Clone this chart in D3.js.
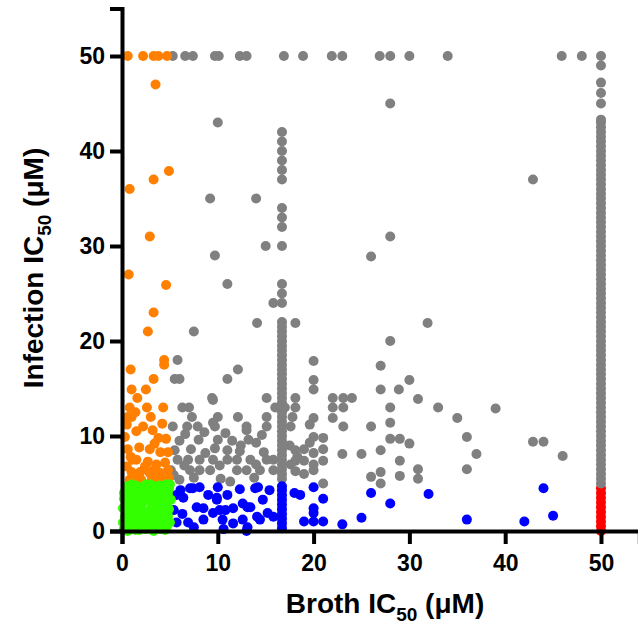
<!DOCTYPE html>
<html>
<head>
<meta charset="utf-8">
<script src="https://cdn.jsdelivr.net/npm/d3@7"></script>
<style>
  body { margin: 0; background: #fff; }
  #chart text { font-family: "Liberation Sans", Arial, sans-serif; font-weight: bold; fill: #000; }
</style>
</head>
<body>
<div id="chart"></div>
<script>
// tick values
const xTicks = [0, 10, 20, 30, 40, 50];
const yTicks = [0, 10, 20, 30, 40, 50];

// orange: broth < 5, infection > 5
const orangePoints = [
  [0.6,50],[2.2,50],[3.3,50],[3.8,50],[4.7,50],[3.5,47],[0.8,36],[3.3,37],[4.9,37.9],
  [2.9,31],[0.7,27],[4.6,25.9],[3.3,23],[2.7,21],[4.4,18],[4.4,17.5],[0.9,17],[3.3,16],
  [1.0,14.9],[2.5,14.9],[1.6,14],[0.8,13],[2.6,13],[4.3,13],[0.6,12],[1.0,12],[3.0,12],
  [1.4,12.5],[2.2,11],[0.3,9.9],[3.8,9.8],[4.6,9.7],[2.9,8.6],[4.0,8.3],[4.8,8.3],[1.1,7.5],
  [2.7,7.3],[1.5,7.5],[1.0,6.2],[1.9,6.2],[2.9,6.1],[4.0,6.1],[4.8,6.4],[3.3,6.4],[0.8,5.4],
  [2.0,5.4],[3.1,5.4],[4.2,5.4],[1.4,5.8],[3.7,5.6],[0.5,6.8],[2.4,6.8],[3.6,7.0],[4.5,7.2],
  [0.6,8.6],[1.8,8.8],[3.4,9.2],[0.5,11.2],[1.5,10.5],[3.2,10.6],[4.2,11.3],[0.9,7.8],[4.9,5.6]
];

// gray: everything else above 5 or broth between 5 and 50
const grayPoints = [
  [5.3,50],[6.6,50],[7.4,50],[9.7,50],[10.1,50],[12.3,50],[13,50],[16.9,50],[18.9,50],[21.9,50],
  [23,50],[26.9,50],[28,50],[30,50],[34,50],[45.9,50],[48,50],
  [10,43],[28,45],[42.9,37],[9.2,35],[14,35],[9.7,29],[15,30],[11,26],[28,31],[26,28.9],
  [15.8,24],[18.1,21.9],[14.1,21.9],[7.5,21],[31.9,21.9],[28,20],[20,17.9],[27,17.4],[5.8,18],
  [12.1,17],[11,16],[5.5,16],[6.0,16],[20,15.9],[20,14.9],[27,14.9],[28.9,14.9],[30,15.9],
  [9.4,14],[15.1,14],[18.1,14],[18.1,13],[22,14],[23.1,14],[24,14],[22,13],[23.1,13],[30.9,13.9],
  [28,13],[33,13],[39,12.9],[35,11.9],[20,11.9],[22,11.9],[28,11.4],[23.1,11],[26,11],[36,9.9],
  [42.9,9.4],[44,9.4],[20,9.9],[28,9.7],[29,9.7],[30,9.2],[23,8.1],[25,8.1],[27,8.5],[29,7.4],
  [37,8.1],[46,7.9],[36,6.5],[30.9,6.5],[30.9,5.5],[27,6.2],[26,5.7],[27,5.0],[29,5.8],[21,5.0],
  [6.3,13],[7.0,13],[16,13],[17,13],[7.3,12],[10,12],[12.1,12],[15.1,12],[5.3,11],[6.8,11],
  [7.9,11],[9.7,11],[13,11],[15.1,11],[19.6,11.2],[9.5,13.8],[9.5,11.4],[13,10.6],[14.6,10.1],
  [14,9.3],[6.0,9.5],[8.0,9.6],[9.7,8.7],[10,9.6],[11.5,9.5],[13.2,9.6],[5.5,8.5],[7.2,8.6],
  [8.7,8.2],[11,8.5],[12.3,8.4],[14.8,8.3],[5.8,7.5],[6.9,7.5],[8.1,7.5],[9.5,7.5],[11,7.5],
  [12,7.5],[13.4,7.5],[15.1,7.5],[15.8,7.5],[5.1,6.4],[7.1,6.4],[8.1,6.4],[9.2,6.4],[12,6.4],
  [13,6.4],[14.4,6.4],[15.8,6.4],[6,5.4],[7.5,5.6],[10.3,5.5],[11.3,5.2],[13.8,5.6],
  [18.3,7.8],[20,8.2],[18.1,8.5],[19,8.6],[21,8.6],[18.1,7.4],[19,7.4],[20,7.0],[21,7.4],
  [18.1,6.3],[19.6,9.3],[21,9.8],[17.5,9.0],[17.6,7.0],[20,6.4],[19,6.0],[17.6,11],[17.8,12],
  [6.6,10.2],[8.6,10.4],[10.8,10.3],[12.4,9.0],[6.5,6.9],[10.2,6.9],[14.0,7.0],[5.4,5.9]
];

// the stacked column near broth 16.7
const col17GrayY = [42,41,40,39,38,37,34,33,32,30,26,25,24,22,21.5,21,20.5,20,19.5,19,18.5,18,
  17.5,17,16.5,16,15.5,15,14.5,14,13.5,13,12.5,12,11.5,11,10.5,10,9.5,9,8.5,8,7.5,7,6.5,6,5.5];
const col17BlueY = [0.3,0.8,1.3,1.8,2.3,2.8,3.3,3.8,4.3,4.7];

// broth = 50 column
const col50GrayY = [50,49,47.2,46.1,45,43.3,43,42.5,42,41.5,41,40.5,40,39.5,39,38.5,38,37.5,37,36.5,
  36,35.5,35,34.5,34,33.5,33,32.5,32,31.5,31,30.5,30,29.5,29,28.5,28,27.5,27,26.5,26,25.5,25,24.5,
  24,23.5,23,22.5,22,21.5,21,20.5,20,19.5,19,18.5,18,17.5,17,16.5,16,15.5,15,14.5,14,13.5,13,12.5,
  12,11.5,11,10.5,10,9.5,9,8.5,8,7.5,7,6.5,6,5.5,5];
const col50RedY = [0,0.5,1,1.5,2,2.5,3,3.5,4,4.5];

const bluePoints = [
  [6.1,4.3],[7.1,4.5],[8.1,4.6],[10,4.6],[14.2,4.6],[15.4,4.3],[18,4],[20,4.6],[5.7,3.8],[6.4,3.5],
  [7.8,2.5],[8.5,2.4],[9.9,3.3],[10.2,2.2],[11.6,2.4],[12.6,2.9],[13.4,2.5],[14.7,3.3],[14.1,1.5],
  [13,0.0],[5.7,0.9],[6.9,0.9],[8.5,1.2],[9.5,1.9],[10.5,1.2],[11.6,0.8],[12.6,1.2],[14.4,1.2],
  [15.8,1.5],[21,3.4],[26,4.0],[28,2.9],[32,3.9],[44,4.5],[45,1.6],[36,1.2],[42,1.0],[25,1.4],
  [23,0.7],[20,2.4],[20,1.9],[19,1.0],[20,1.0],[21,1.0],[12.3,4.4],[11,3.8],[9,3.8],[5.4,2.2],
  [6.3,1.8],[7.5,0.4],[10.6,0.2],[9.9,3.5],[10.8,2.2],[13.9,4.5],[13.1,2.5],[15.2,1.9],[13.1,0.4],
  [18.6,3.8],[7.4,4.5]
];

// green: both below 5
const greenPoints = [
  [0.2,0.2],[0.5,0.8],[0.3,1.5],[0.1,2.4],[0.4,3.1],[0.2,4.0],[0.5,4.7],[0.9,0.3],[1.2,1.1],
  [0.9,1.9],[1.3,2.6],[0.8,3.4],[1.2,4.2],[1.0,4.9],[1.7,0.5],[2.0,1.3],[1.6,2.1],[1.9,3.0],
  [1.6,3.8],[2.0,4.6],[2.5,0.2],[2.7,0.9],[2.3,1.6],[3.0,2.3],[2.2,3.6],[2.7,4.1],[2.5,4.9],
  [3.2,0.6],[3.5,1.4],[3.1,1.9],[3.6,2.9],[3.2,3.7],[3.5,4.5],[4.0,0.2],[4.3,1.0],[3.9,1.8],
  [4.4,2.6],[4.0,3.4],[4.4,4.2],[4.6,4.9],[4.7,0.5],[4.8,1.6],[4.7,3.0],[4.8,3.8],[0.6,2.9],
  [1.4,0.1],[2.0,2.3],[3.0,3.1],[0.1,0.9],[3.9,4.8],[1.5,4.7],[4.9,2.3],
  [0.6,0.0],[1.8,0.1],[3.3,0.0],[4.5,0.1],[0.3,3.8],[1.0,2.3],[2.2,0.6],[3.7,0.6],[1.5,3.3],
  [4.2,3.9],[4.9,4.4],[3.0,4.9],[0.4,4.2],[1.8,4.0],[5.0,0.9],[5.1,3.3],[2.9,1.2],[4.6,2.0],
  [1.1,1.6],[2.1,2.9],[3.4,2.4],[0.7,1.2],[0.2,3.4],[1.4,4.8],[2.4,4.3],[3.6,3.5],[4.3,0.5],
  [5.0,4.9],[2.8,3.6],[3.8,4.1],[0.9,4.5],[1.7,1.6],[3.3,1.0],[4.1,2.2],[0.5,0.4],[1.2,3.0]
];

const svg = d3.select("#chart")
  .append("svg")
  .attr("width", 638)
  .attr("height", 626);

const x = d3.scaleLinear().domain([0, 54]).range([122, 639.3]);
const y = d3.scaleLinear().domain([0, 55]).range([531, 8.5]);

function dots(data, color) {
  svg.append("g")
    .selectAll("circle")
    .data(data)
    .join("circle")
    .attr("cx", d => x(d[0]))
    .attr("cy", d => y(d[1]))
    .attr("r", 5)
    .attr("fill", color);
}

dots(col50RedY.map(v => [50, v]), "#ff0000");
dots(grayPoints.concat(col17GrayY.map(v => [16.7, v]), col50GrayY.map(v => [50, v])), "#808080");
dots(orangePoints, "#ff8000");
dots(bluePoints.concat(col17BlueY.map(v => [16.7, v])), "#0000ff");
dots(greenPoints, "#33ff00");

// axes
const xAxis = svg.append("g")
  .attr("transform", `translate(0,${y(0)})`)
  .call(d3.axisBottom(x).tickValues(xTicks).tickSizeOuter(0).tickSize(13).tickPadding(11));

const yAxis = svg.append("g")
  .attr("transform", `translate(${x(0)},0)`)
  .call(d3.axisLeft(y).tickValues(yTicks).tickSizeOuter(0).tickSize(12).tickPadding(5));

[xAxis, yAxis].forEach(g => {
  g.selectAll(".domain").attr("stroke", "#000").attr("stroke-width", 4);
  g.selectAll(".tick line").attr("stroke", "#000").attr("stroke-width", 4);
  g.selectAll(".tick text").style("font-size", "23px").style("font-weight", "bold");
});

// axis titles
const xt = svg.append("text")
  .attr("x", 385)
  .attr("y", 613)
  .attr("text-anchor", "middle")
  .style("font-size", "28px");
xt.append("tspan").text("Broth IC");
xt.append("tspan").attr("dy", 8).style("font-size", "19px").text("50");
xt.append("tspan").attr("dy", -8).text(" (\u03bcM)");

const yt = svg.append("text")
  .attr("transform", "translate(43,268) rotate(-90)")
  .attr("text-anchor", "middle")
  .style("font-size", "28px");
yt.append("tspan").text("Infection IC");
yt.append("tspan").attr("dy", 8).style("font-size", "19px").text("50");
yt.append("tspan").attr("dy", -8).text(" (\u03bcM)");
</script>
</body>
</html>
